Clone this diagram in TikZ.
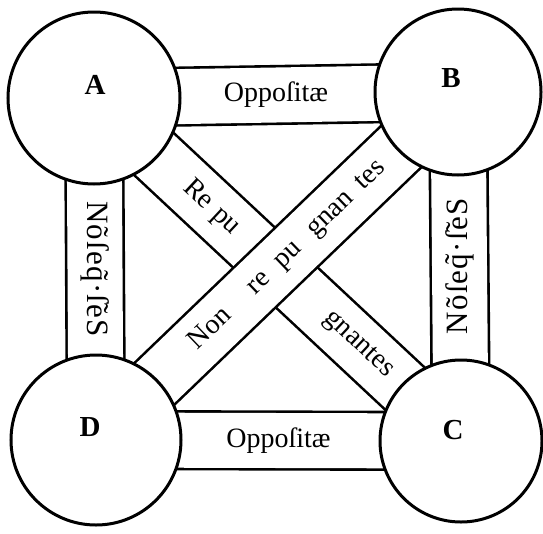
\documentclass[tikz,border=0pt]{standalone}
\usepackage{fontspec}
\setmainfont{Liberation Serif}
\usetikzlibrary{backgrounds}

\begin{document}
\begin{tikzpicture}[
  x=1pt, y=-1pt,
  disc/.style={circle, draw, fill=white, line width=3pt, minimum size=#1, inner sep=0pt},
  letter/.style={font=\fontsize{29}{29}\selectfont\bfseries, inner sep=0pt},
  band/.style={line width=2.6pt, double=white, double distance=55pt},
  word/.style={font=\fontsize{28}{28}\selectfont, inner sep=1pt},
  sideword/.style={font=\fontsize{31}{31}\selectfont\addfontfeatures{LetterSpace=4}, inner sep=1pt}]
\useasboundingbox (0,0) rectangle (543,533);
\node[disc=172pt] (A) at (94,98) {};
\node[disc=166pt] (B) at (458,92) {};
\node[disc=170pt] (D) at (96,440) {};
\node[disc=162pt] (C) at (461,441) {};
\node[letter] (lA) at (95,85) {A};
\node[letter] (lB) at (451,78) {B};
\node[letter] (lD) at (90,427) {D};
\node[letter] (lC) at (453,430) {C};

\begin{scope}[on background layer]
\draw[band] (A.center) -- node[word, pos=.32, sloped] (repu) {Re\hspace{9pt}pu}
  node[word, pos=.72, sloped] (gnantes) {gnantes} (C.center);
\draw[band] (D.center) -- node[word, pos=.53, sloped] (nonrepu)
  {Non\hspace{32pt}re\hspace{15pt}pu\hspace{18pt}gnan\hspace{13pt}tes} (B.center);
\draw[band] (A.center) -- node[word] (oppAB) {Oppoſitæ} (B.center);
\draw[band] (D.center) -- node[word] (oppDC) {Oppoſitæ} (C.center);
\draw[band] (A.center) -- node[sideword, rotate=-90] (seqAD) {Nõſeq̃·ſ̃eS} (D.center);
\draw[band] (B.center) -- node[sideword, rotate=90] (seqBC) {Nõſeq̃·ſ̃eS} (C.center);
\end{scope}
\end{tikzpicture}
\end{document}
